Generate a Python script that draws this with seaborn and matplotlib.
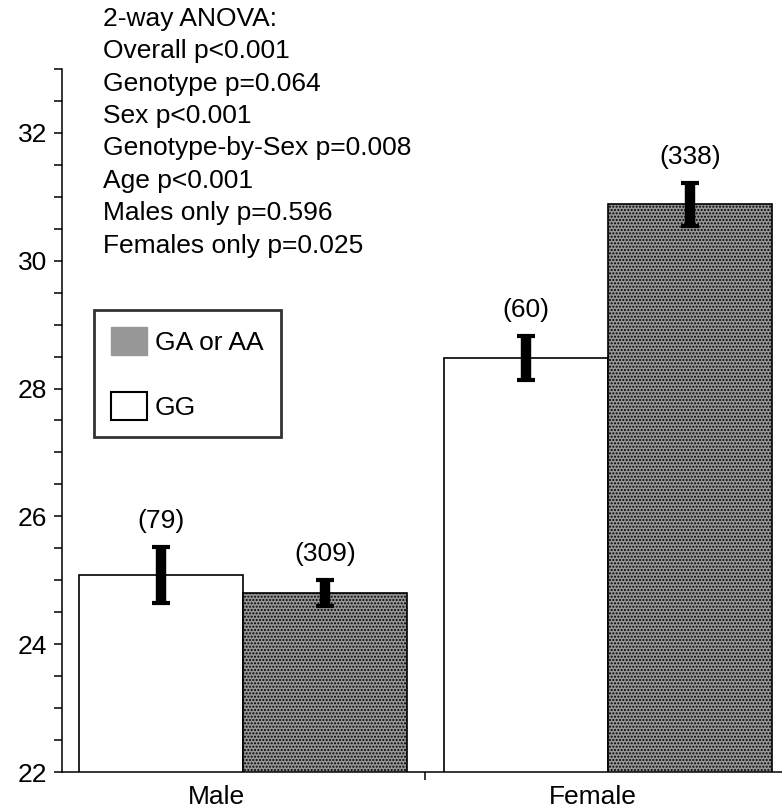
import matplotlib
matplotlib.use("Agg")
import matplotlib.pyplot as plt
import seaborn as sns
import pandas as pd
from matplotlib.patches import Patch
from matplotlib.ticker import MultipleLocator, FixedLocator
from matplotlib.transforms import ScaledTranslation

# Mean values (with standard errors) per sex and genotype group
sexes = ["Male", "Female"]
genotypes = ["GG", "GA or AA"]
mean_gg = [25.08, 28.48]
mean_ga = [24.80, 30.88]
sem_gg = [0.44, 0.34]
sem_ga = [0.21, 0.34]
n_gg = [79, 60]
n_ga = [309, 338]

stats_lines = [
    "2-way ANOVA:",
    "Overall p<0.001",
    "Genotype p=0.064",
    "Sex p<0.001",
    "Genotype-by-Sex p=0.008",
    "Age p<0.001",
    "Males only p=0.596",
    "Females only p=0.025",
]

sns.set_style("ticks")
plt.rcParams["font.family"] = ["Liberation Sans", "DejaVu Sans"]
plt.rcParams["hatch.linewidth"] = 1.0
plt.rcParams["text.color"] = "black"
plt.rcParams["xtick.color"] = "black"
plt.rcParams["ytick.color"] = "black"
plt.rcParams["axes.labelcolor"] = "black"

GRAY = "#979797"
FS = 19

df = pd.DataFrame({
    "Sex": sexes + sexes,
    "Genotype": [genotypes[0]] * 2 + [genotypes[1]] * 2,
    "value": mean_gg + mean_ga,
    "sem": sem_gg + sem_ga,
    "n": n_gg + n_ga,
})

fig = plt.figure(figsize=(7.82, 8.10), dpi=100)
ax = fig.add_axes([62 / 782, 38 / 810, 720 / 782, 703 / 810])

sns.barplot(data=df, x="Sex", y="value", hue="Genotype",
            order=sexes, hue_order=genotypes,
            palette={"GG": "white", "GA or AA": GRAY},
            width=0.9, gap=0, errorbar=None,
            edgecolor="black", linewidth=1.2, legend=False, ax=ax)

# Hatch the GA/AA bars and add error bars + group sizes above each bar
for level, container in zip(genotypes, ax.containers):
    sub = df[df["Genotype"] == level].set_index("Sex").loc[sexes]
    for bar, (_, row) in zip(container, sub.iterrows()):
        if level != "GG":
            bar.set_hatch(".....")
        xc = bar.get_x() + bar.get_width() / 2
        ax.errorbar(xc, row["value"], yerr=row["sem"], fmt="none",
                    ecolor="black", elinewidth=7.5, capsize=6.5, capthick=3,
                    zorder=5)
        ax.annotate(f"({int(row['n'])})", (xc, row["value"] + row["sem"]),
                    xytext=(0, 10), textcoords="offset points",
                    ha="center", va="bottom", fontsize=FS)

ax.set_xlim(-0.496, 1.477)
ax.set_ylim(22, 33)
ax.set_xlabel("")
ax.set_ylabel("")

ax.yaxis.set_major_locator(FixedLocator([22, 24, 26, 28, 30, 32]))
ax.yaxis.set_minor_locator(MultipleLocator(0.5))
ax.tick_params(axis="y", which="both", length=5.5, width=1.1, color="black",
               labelsize=FS, pad=5, direction="out")
ax.xaxis.set_minor_locator(FixedLocator([0.5]))
ax.tick_params(axis="x", which="major", length=0, labelsize=FS, pad=9)
ax.tick_params(axis="x", which="minor", length=6, width=1.1, color="black")

for lbl, dx in zip(ax.get_xticklabels(), [-27, -15]):
    lbl.set_transform(lbl.get_transform() + ScaledTranslation(dx / 100, 0, fig.dpi_scale_trans))

sns.despine(ax=ax)
for side in ("left", "bottom"):
    ax.spines[side].set_linewidth(1.1)
    ax.spines[side].set_color("black")

handles = [
    Patch(facecolor=GRAY, edgecolor=GRAY, hatch=".....", label="GA or AA"),
    Patch(facecolor="white", edgecolor="black", linewidth=1.5, label="GG"),
]
leg = ax.legend(handles=handles, loc="upper left",
                bbox_to_anchor=((94 - 62) / 720, (772 - 310) / 703),
                borderaxespad=0, fontsize=FS, frameon=True, fancybox=False,
                handlelength=1.36, handleheight=1.25, handletextpad=0.3,
                labelspacing=1.4, borderpad=0.65)
leg.get_frame().set_edgecolor("black")
leg.get_frame().set_linewidth(2)

fig.text(103 / 782, 1 - 7 / 810, "\n".join(stats_lines), ha="left", va="top",
         fontsize=FS, linespacing=1.44)

fig.savefig("out.png", dpi=100)
